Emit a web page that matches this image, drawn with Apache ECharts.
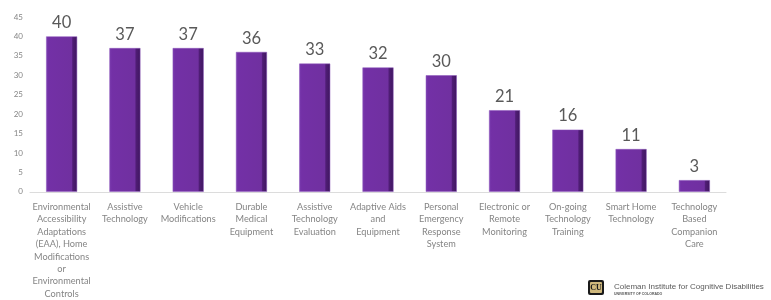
<!DOCTYPE html>
<html>
<head>
<meta charset="utf-8">
<script src="https://cdn.jsdelivr.net/npm/echarts@6/dist/echarts.min.js"></script>
<style>html,body{margin:0;padding:0;background:#fff;}#c{width:771px;height:300px;}</style>
</head>
<body>
<div id="c"></div>
<script>
const categories = [
  "Environmental\nAccessibility\nAdaptations\n(EAA), Home\nModifications\nor\nEnvironmental\nControls",
  "Assistive\nTechnology",
  "Vehicle\nModifications",
  "Durable\nMedical\nEquipment",
  "Assistive\nTechnology\nEvaluation",
  "Adaptive Aids\nand\nEquipment",
  "Personal\nEmergency\nResponse\nSystem",
  "Electronic or\nRemote\nMonitoring",
  "On-going\nTechnology\nTraining",
  "Smart Home\nTechnology",
  "Technology\nBased\nCompanion\nCare"
];
const values = [40, 37, 37, 36, 33, 32, 30, 21, 16, 11, 3];
const yTicks = { min: 0, max: 45, interval: 5 };

const chart = echarts.init(document.getElementById('c'), null, { renderer: 'canvas' });
const barGradient = new echarts.graphic.LinearGradient(0, 0, 1, 0, [
  { offset: 0, color: '#7a3cb0' },
  { offset: 0.08, color: '#7330a6' },
  { offset: 0.82, color: '#7030a0' },
  { offset: 0.86, color: '#4f1d75' },
  { offset: 1, color: '#3f165f' }
]);
chart.setOption({
  animation: false,
  backgroundColor: '#ffffff',
  grid: { left: 30, right: 45, top: 17, bottom: 108, containLabel: false },
  xAxis: {
    type: 'category',
    data: categories,
    axisLine: { show: true, lineStyle: { color: '#dcdcdc', width: 1 } },
    axisTick: { show: false },
    axisLabel: {
      interval: 0,
      margin: 9,
      fontFamily: 'Lato',
      fontSize: 9.2,
      lineHeight: 12.4,
      color: '#858585',
      align: 'center'
    }
  },
  yAxis: {
    type: 'value',
    min: yTicks.min,
    max: yTicks.max,
    interval: yTicks.interval,
    axisLine: { show: false },
    axisTick: { show: false },
    splitLine: { show: false },
    axisLabel: { margin: 7, fontFamily: 'Lato', fontSize: 8, color: '#858585' }
  },
  series: [{
    type: 'bar',
    data: values,
    barWidth: 31,
    itemStyle: { color: barGradient, borderColor: '#8a55bb', borderWidth: 0.5 },
    label: {
      show: true,
      position: 'top',
      distance: 5,
      fontFamily: 'Lato',
      fontSize: 16.5,
      color: '#595959'
    }
  }],
  graphic: [
    {
      type: 'group', left: 588, top: 280,
      children: [
        { type: 'rect', shape: { x: 0, y: 0, width: 16, height: 15, r: 2 }, style: { fill: '#1a1a1a' } },
        { type: 'rect', shape: { x: 2, y: 2, width: 12, height: 11, r: 1 }, style: { fill: '#cfb87c' } },
        { type: 'text', style: { x: 8, y: 7.5, text: 'CU', fill: '#1a1a1a', fontSize: 8, fontWeight: 'bold', fontFamily: 'Liberation Serif', align: 'center', verticalAlign: 'middle' } }
      ]
    },
    {
      type: 'text', left: 614, top: 283,
      style: { text: 'Coleman Institute for Cognitive Disabilities', fill: '#5a5a5a', fontSize: 8, fontFamily: 'Liberation Sans' }
    },
    {
      type: 'text', left: 614, top: 292,
      style: { text: 'UNIVERSITY OF COLORADO', fill: '#555', fontSize: 3.5, fontWeight: 'bold', fontFamily: 'Liberation Sans' }
    }
  ]
});
</script>
</body>
</html>
